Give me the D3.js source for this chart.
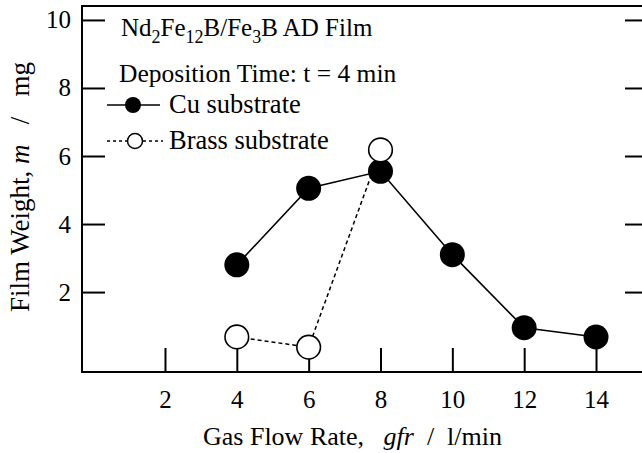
<!DOCTYPE html>
<html><head><meta charset="utf-8">
<script src="https://cdn.jsdelivr.net/npm/d3@7"></script>
<style>body{margin:0;background:#fff}svg{display:block}text{font-family:"Liberation Serif","Times New Roman",serif;fill:#000}</style>
</head><body><svg id="c" width="642" height="453"></svg>
<script>
const gfr = [4, 6, 8, 10, 12, 14];
const cuWeight = [2.8, 5.05, 5.55, 3.1, 0.95, 0.68];
const brassGfr = [4, 6, 8];
const brassWeight = [0.68, 0.38, 6.18];
const xTicks = [2, 4, 6, 8, 10, 12, 14];
const yTicks = [2, 4, 6, 8, 10];

const svg = d3.select("#c");
const x = d3.scaleLinear().domain([-0.31, 15.28]).range([82, 642]);
const y = d3.scaleLinear().domain([-0.35, 10.41]).range([372, 6]);

// frame
svg.append("path").attr("d", `M650,6H82V372H650`).attr("fill","none").attr("stroke","#000").attr("stroke-width",2);

// x ticks (inner) and labels
svg.append("g").attr("transform","translate(0,372)")
  .call(d3.axisBottom(x).tickValues(xTicks).tickSizeInner(-24).tickSizeOuter(0).tickPadding(20).tickFormat(d3.format("d")))
  .call(g=>{g.select(".domain").remove();g.selectAll("line").attr("stroke-width",2);g.selectAll("text").attr("font-size",25).attr("dy","0.32em").attr("y",28);});

// y ticks left
svg.append("g").attr("transform","translate(82,0)")
  .call(d3.axisLeft(y).tickValues(yTicks).tickSizeInner(-23).tickSizeOuter(0).tickPadding(11).tickFormat(d3.format("d")))
  .call(g=>{g.select(".domain").remove();g.selectAll("line").attr("stroke-width",2);g.selectAll("text").attr("font-size",25);});

// y ticks right
svg.append("g").attr("transform","translate(650,0)")
  .call(d3.axisRight(y).tickValues(yTicks).tickSizeInner(-25).tickSizeOuter(0).tickFormat(""))
  .call(g=>{g.select(".domain").remove();g.selectAll("line").attr("stroke-width",2);});

// brass dashed line
const brassPts = brassGfr.map((d,i)=>[d, brassWeight[i]]);
svg.append("path").datum(brassPts)
  .attr("d", d3.line().x(d=>x(d[0])).y(d=>y(d[1])))
  .attr("fill","none").attr("stroke","#000").attr("stroke-width",1.5).attr("stroke-dasharray","4,3");
// cu solid line
const cuPts = gfr.map((d,i)=>[d, cuWeight[i]]);
svg.append("path").datum(cuPts)
  .attr("d", d3.line().x(d=>x(d[0])).y(d=>y(d[1])))
  .attr("fill","none").attr("stroke","#000").attr("stroke-width",1.6);

svg.append("g").selectAll("circle").data(cuPts).join("circle")
  .attr("cx",d=>x(d[0])).attr("cy",d=>y(d[1])).attr("r",12.5).attr("fill","#000");
svg.append("g").selectAll("circle").data(brassPts).join("circle")
  .attr("cx",d=>x(d[0])).attr("cy",d=>y(d[1])).attr("r",11.8).attr("fill","#fff").attr("stroke","#000").attr("stroke-width",1.6);

// annotations
const t1 = svg.append("text").attr("x",121).attr("y",36).attr("font-size",25);
t1.append("tspan").text("Nd");
t1.append("tspan").attr("font-size",18).attr("dy",7).text("2");
t1.append("tspan").attr("dy",-7).text("Fe");
t1.append("tspan").attr("font-size",18).attr("dy",7).text("12");
t1.append("tspan").attr("dy",-7).text("B/Fe");
t1.append("tspan").attr("font-size",18).attr("dy",7).text("3");
t1.append("tspan").attr("dy",-7).text("B AD Film");

svg.append("text").attr("x",119).attr("y",82).attr("font-size",25.5).text("Deposition Time: t = 4 min");

// legend
svg.append("line").attr("x1",107).attr("x2",160).attr("y1",105).attr("y2",105).attr("stroke","#000").attr("stroke-width",1.6);
svg.append("circle").attr("cx",133).attr("cy",105).attr("r",8).attr("fill","#000");
svg.append("text").attr("x",169).attr("y",113).attr("font-size",26.5).text("Cu substrate");
svg.append("line").attr("x1",107).attr("x2",163).attr("y1",141).attr("y2",141).attr("stroke","#000").attr("stroke-width",1.5).attr("stroke-dasharray","3,3");
svg.append("circle").attr("cx",135).attr("cy",141).attr("r",7.5).attr("fill","#fff").attr("stroke","#000").attr("stroke-width",1.5);
svg.append("text").attr("x",169).attr("y",149).attr("font-size",26.5).text("Brass substrate");

// axis titles
const xt = svg.append("text").attr("x",203).attr("y",445).attr("font-size",26).attr("xml:space","preserve");
xt.append("tspan").text("Gas Flow Rate,   ");
xt.append("tspan").attr("font-style","italic").text("gfr");
xt.append("tspan").text("  /  l/min");

const yt = svg.append("text").attr("transform","translate(29,312) rotate(-90)").attr("font-size",27).attr("xml:space","preserve");
yt.append("tspan").text("Film Weight, ");
yt.append("tspan").attr("font-style","italic").text("m");
yt.append("tspan").text("   /   mg");
</script></body></html>
